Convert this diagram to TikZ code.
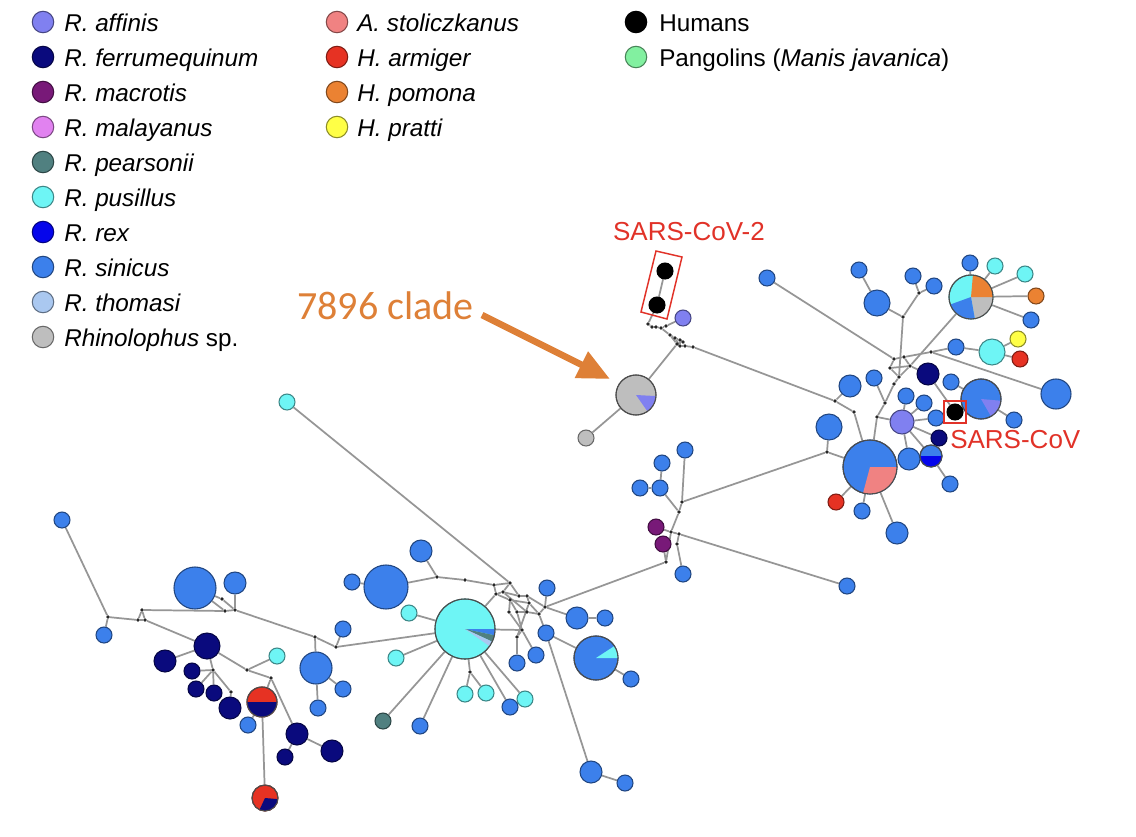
\documentclass[tikz,border=0pt]{standalone}
\usepackage{fontspec}
\setmainfont{Liberation Sans}
\newfontfamily\clfont{Carlito}
\usetikzlibrary{arrows.meta,backgrounds}
\definecolor{caff}{RGB}{128,128,240}
\definecolor{cfer}{RGB}{10,10,125}
\definecolor{cmac}{RGB}{120,25,120}
\definecolor{cmal}{RGB}{225,130,240}
\definecolor{cpea}{RGB}{80,128,128}
\definecolor{cpus}{RGB}{110,245,245}
\definecolor{crex}{RGB}{5,5,235}
\definecolor{csin}{RGB}{60,128,235}
\definecolor{ctho}{RGB}{170,200,240}
\definecolor{csp}{RGB}{190,190,190}
\definecolor{csto}{RGB}{240,130,130}
\definecolor{carm}{RGB}{230,50,35}
\definecolor{cpom}{RGB}{235,130,50}
\definecolor{cpra}{RGB}{255,255,70}
\definecolor{chum}{RGB}{0,0,0}
\definecolor{cpan}{RGB}{130,240,160}
\definecolor{cedge}{RGB}{150,150,150}
\definecolor{cred}{RGB}{225,50,40}
\definecolor{corg}{RGB}{222,128,55}
\tikzset{
 nd/.style 2 args={circle,inner sep=0pt,minimum size={(#1+1)*1.5pt},fill=#2,draw=#2!55!black,line width=0.8pt},
 lgc/.style 2 args={circle,inner sep=0pt,minimum size={#1*0.75pt},fill=#2,draw=#2!55!black,line width=0.8pt},
 jn/.style={circle,inner sep=0pt,minimum size=2.8pt,fill=black!85},
 ed/.style={draw=cedge,line width=1.3pt},
 lg/.style={anchor=base west,inner sep=0pt,font=\fontsize{18.2}{21}\selectfont},
 redlabel/.style={text=cred,font=\fontsize{19.5}{22}\selectfont,inner sep=0pt},
 hl/.style={draw=cred,line width=1.1pt},
 ring/.style={draw=black!70,line width=0.8pt},
}
\newcommand\mynode[5]{\node[nd={#4}{#5}] (#1) at (#2,#3) {};}
\newcommand\myjn[3]{\node[jn] (#1) at (#2,#3) {};}
\newcommand\mywedge[5]{\fill[#5] (#1.center) -- ++(#2:{(#4+1)*0.75pt}) arc[start angle=#2,end angle=#3,radius={(#4+1)*0.75pt}] -- cycle;}
\newcommand\myring[2]{\draw[ring] (#1.center) circle[radius={(#2+1)*0.75pt}];}
\begin{document}
\begin{tikzpicture}[x=0.75pt,y=-0.75pt]
\useasboundingbox (0,0) rectangle (1136,836);
% ---------------- legend
\node[lgc={21.5}{caff}] (l1) at (43,22) {};
\node[lgc={21.5}{cfer}] (l2) at (43,57) {};
\node[lgc={21.5}{cmac}] (l3) at (43,92) {};
\node[lgc={21.5}{cmal}] (l4) at (43,127) {};
\node[lgc={21.5}{cpea}] (l5) at (43,162) {};
\node[lgc={21.5}{cpus}] (l6) at (43,197) {};
\node[lgc={21.5}{crex}] (l7) at (43,232) {};
\node[lgc={21.5}{csin}] (l8) at (43,267) {};
\node[lgc={21.5}{ctho}] (l9) at (43,302) {};
\node[lgc={21.5}{csp}] (l10) at (43,337) {};
\node[lgc={21.5}{csto}] (l11) at (337,22) {};
\node[lgc={21.5}{carm}] (l12) at (337,57) {};
\node[lgc={21.5}{cpom}] (l13) at (337,92) {};
\node[lgc={21.5}{cpra}] (l14) at (337,127) {};
\node[lgc={21.5}{chum}] (l15) at (636,22) {};
\node[lgc={21.5}{cpan}] (l16) at (636,57) {};
\node[lg] (t1) at (64,31) {\textit{R. affinis}};
\node[lg] (t2) at (64,66) {\textit{R. ferrumequinum}};
\node[lg] (t3) at (64,101) {\textit{R. macrotis}};
\node[lg] (t4) at (64,136) {\textit{R. malayanus}};
\node[lg] (t5) at (64,171) {\textit{R. pearsonii}};
\node[lg] (t6) at (64,206) {\textit{R. pusillus}};
\node[lg] (t7) at (64,241) {\textit{R. rex}};
\node[lg] (t8) at (64,276) {\textit{R. sinicus}};
\node[lg] (t9) at (64,311) {\textit{R. thomasi}};
\node[lg] (t10) at (64,346) {\textit{Rhinolophus} sp.};
\node[lg] (t11) at (357,31) {\textit{A. stoliczkanus}};
\node[lg] (t12) at (357,66) {\textit{H. armiger}};
\node[lg] (t13) at (357,101) {\textit{H. pomona}};
\node[lg] (t14) at (357,136) {\textit{H. pratti}};
\node[lg] (t15) at (659,31) {Humans};
\node[lg] (t16) at (659,66) {Pangolins (\textit{Manis javanica})};
% ---------------- right cluster
\mynode{a1}{767}{278}{7}{csin}
\mynode{a2}{859}{270}{7}{csin}
\mynode{a3}{877}{303}{12}{csin}
\mynode{a4}{913}{276}{7}{csin}
\mynode{a5}{934}{286}{7}{csin}
\myjn{ja1}{903}{317}
\myjn{ja2}{919}{293}
\mynode{P1}{971}{297}{21}{cpus}
\mynode{a6}{970}{263}{7}{csin}
\mynode{a7}{995}{266}{7}{cpus}
\mynode{a8}{1025}{274}{7}{cpus}
\mynode{a9}{1036}{296}{7}{cpom}
\mynode{a10}{1031}{320}{7}{csin}
\mynode{a11}{956}{347}{7}{csin}
\mynode{a12}{992}{352}{12}{cpus}
\mynode{a13}{1018}{339}{7}{cpra}
\mynode{a14}{1020}{359}{7}{carm}
\mynode{a15}{928}{374}{10}{cfer}
\mynode{a16}{951}{382}{7}{csin}
\mynode{P2}{981}{399}{19}{csin}
\mynode{a17}{1056}{394}{14}{csin}
\mynode{a18}{1014}{420}{7}{csin}
\mynode{H1}{955}{412}{7}{chum}
\mynode{AF}{902}{422}{11}{caff}
\mynode{a19}{906}{396}{7}{csin}
\mynode{a20}{924}{403}{7}{csin}
\mynode{a21}{936}{418}{7}{csin}
\mynode{a22}{939}{438}{7}{cfer}
\mynode{P3}{931}{456}{10}{csin}
\mynode{a23}{909}{459}{10}{csin}
\mynode{a24}{950}{484}{7}{csin}
\mynode{P4}{870}{467}{26}{csin}
\mynode{a25}{836}{502}{7}{carm}
\mynode{a26}{862}{511}{7}{csin}
\mynode{a27}{897}{533}{10}{csin}
\mynode{a28}{829}{427}{12}{csin}
\mynode{a29}{850}{386}{10}{csin}
\mynode{a30}{874}{378}{7}{csin}
\myjn{jb1}{827}{452}
\myjn{jb2}{835}{401}
\myjn{jb3}{854}{412}
\myjn{jb4}{877}{417}
\myjn{jb5}{885}{403}
\myjn{jb6}{894}{384}
\myjn{jb7}{899}{377}
\myjn{jb8}{890}{368}
\myjn{jb9}{894}{359}
\myjn{jb10}{904}{357}
\myjn{jb11}{910}{366}
\myjn{jb12}{931}{352}
% ---------------- 7896 / SARS-CoV-2
\mynode{H2a}{665}{271}{7}{chum}
\mynode{H2b}{657}{305}{7}{chum}
\mynode{b1}{683}{318}{7}{caff}
\mynode{P5}{636}{395}{19}{csp}
\mynode{b2}{586}{438}{7}{csp}
\myjn{t1}{648}{324}
\myjn{t2}{652}{327}
\myjn{t3}{656}{327}
\myjn{t4}{661}{328}
\myjn{t5}{666}{326}
\myjn{t6}{670}{335}
\myjn{t7}{675}{338}
\myjn{t8}{680}{340}
\myjn{t9}{683}{342}
\myjn{t10}{685}{346}
\myjn{t11}{680}{346}
\myjn{t12}{677}{344}
\myjn{t13}{693}{347}
% ---------------- middle
\mynode{c1}{685}{450}{7}{csin}
\mynode{c2}{662}{463}{7}{csin}
\mynode{c3}{660}{488}{7}{csin}
\mynode{c4}{640}{488}{7}{csin}
\mynode{c5}{656}{527}{7}{cmac}
\mynode{c6}{663}{544}{7}{cmac}
\mynode{c7}{683}{574}{7}{csin}
\mynode{c8}{847}{586}{7}{csin}
\myjn{jm1}{682}{502}
\myjn{jm2}{679}{512}
\myjn{jm3}{671}{532}
\myjn{jm4}{679}{534}
\myjn{jm5}{677}{544}
\myjn{jm6}{666}{562}
% ---------------- centre
\mynode{P6}{465}{629}{29}{cpus}
\mynode{d1}{547}{588}{7}{csin}
\mynode{d2}{577}{618}{10}{csin}
\mynode{d3}{605}{618}{7}{csin}
\mynode{d4}{546}{633}{7}{csin}
\mynode{P7}{596}{658}{21}{csin}
\mynode{d5}{631}{679}{7}{csin}
\mynode{d6}{517}{663}{7}{csin}
\mynode{d7}{536}{655}{7}{csin}
\mynode{d8}{409}{613}{7}{cpus}
\mynode{d9}{396}{658}{7}{cpus}
\mynode{d10}{465}{694}{7}{cpus}
\mynode{d11}{486}{693}{7}{cpus}
\mynode{d12}{510}{707}{7}{csin}
\mynode{d13}{525}{699}{7}{cpus}
\mynode{d14}{383}{721}{7}{cpea}
\mynode{d15}{420}{726}{7}{csin}
\mynode{d16}{591}{772}{10}{csin}
\mynode{d17}{625}{783}{7}{csin}
\mynode{d18}{421}{551}{10}{csin}
\mynode{d19}{386}{587}{21}{csin}
\mynode{d20}{352}{582}{7}{csin}
\mynode{d21}{343}{629}{7}{csin}
\mynode{c12}{287}{402}{7}{cpus}
\myjn{jc1}{437}{577}
\myjn{jc2}{465}{580}
\myjn{jc3}{470}{672}
\myjn{k1}{494}{585}
\myjn{k2}{510}{583}
\myjn{k3}{496}{594}
\myjn{k4}{503}{592}
\myjn{k5}{510}{600}
\myjn{k6}{519}{596}
\myjn{k7}{527}{596}
\myjn{k8}{529}{603}
\myjn{k9}{517}{612}
\myjn{k10}{527}{612}
\myjn{k11}{539}{614}
\myjn{k12}{545}{607}
\myjn{k13}{522}{630}
\myjn{k14}{517}{637}
\myjn{k15}{509}{612}
% ---------------- left cluster
\mynode{e1}{62}{520}{7}{csin}
\mynode{e2}{104}{635}{7}{csin}
\mynode{e3}{195}{588}{20}{csin}
\mynode{e4}{235}{583}{10}{csin}
\mynode{e5}{207}{646}{12}{cfer}
\mynode{e6}{165}{661}{10}{cfer}
\mynode{e7}{192}{671}{7}{cfer}
\mynode{e8}{196}{689}{7}{cfer}
\mynode{e9}{214}{693}{7}{cfer}
\mynode{e10}{230}{708}{10}{cfer}
\mynode{e11}{277}{656}{7}{cpus}
\mynode{P8}{262}{702}{14}{carm}
\mynode{e12}{248}{725}{7}{csin}
\mynode{e13}{297}{734}{10}{cfer}
\mynode{e14}{285}{757}{7}{cfer}
\mynode{e15}{332}{751}{10}{cfer}
\mynode{P9}{265}{798}{12}{carm}
\mynode{e16}{316}{668}{15}{csin}
\mynode{e18}{343}{689}{7}{csin}
\mynode{e19}{318}{708}{7}{csin}
\myjn{jl1}{108}{617}
\myjn{jl3}{138}{620}
\myjn{jl4}{142}{610}
\myjn{jl5}{145}{620}
\myjn{jl6}{225}{611}
\myjn{jl7}{235}{610}
\myjn{jl8}{222}{599}
\myjn{jl9}{315}{637}
\myjn{jl2}{336}{647}
\myjn{jl10}{213}{670}
\myjn{jl11}{247}{670}
\myjn{jl12}{271}{678}
\myjn{jl13}{231}{692}
% ---------------- pie wedges
\mywedge{P1}{-80}{0}{21}{csp}
\mywedge{P1}{0}{85}{21}{cpom}
\mywedge{P1}{200}{280}{21}{csin}
\myring{P1}{21}
\mywedge{P2}{-60}{-5}{19}{caff}
\myring{P2}{19}
\mywedge{P3}{180}{360}{10}{crex}
\myring{P3}{10}
\mywedge{P4}{-105}{0}{26}{csto}
\myring{P4}{26}
\mywedge{P5}{-55}{-3}{19}{caff}
\myring{P5}{19}
\mywedge{P6}{-12}{0}{29}{csin}
\mywedge{P6}{-25}{-12}{29}{cpea}
\mywedge{P6}{-35}{-25}{29}{ctho}
\myring{P6}{29}
\mywedge{P7}{0}{33}{21}{cpus}
\myring{P7}{21}
\mywedge{P8}{180}{360}{14}{cfer}
\myring{P8}{14}
\mywedge{P9}{-115}{-5}{12}{cfer}
\myring{P9}{12}
% ---------------- highlights and labels
\draw[hl] (656,251) -- (682,257) -- (667,319) -- (641,312) -- cycle;
\draw[hl] (944,401) rectangle (966,423);
\node[redlabel] (lab2) at (689,232) {SARS-CoV-2};
\node[redlabel,anchor=west] (lab1) at (950,440) {SARS-CoV};
\node[anchor=base west,inner sep=0pt,text=corg,font=\clfont\fontsize{30}{34}\selectfont] (clade) at (297,319) {7896 clade};
\coordinate (arrS) at (482,315);
\coordinate (arrE) at (610,379);
\draw[corg,line width=5pt,-{Triangle[length=24pt,width=21pt]}] (arrS) -- (arrE);
% ---------------- edges
\begin{pgfonlayer}{background}
\fill[white] (0,0) rectangle (1136,836);
\foreach \a/\b in {a1/jb9,a2/a3,a3/ja1,ja1/ja2,ja2/a4,ja2/a5,ja1/jb7,
 P1/a6,P1/a7,P1/a8,P1/a9,P1/a10,P1/jb11,
 jb9/jb10,jb10/jb12,jb12/a11,jb12/a17,a11/a12,a12/a13,a12/a14,
 jb9/jb8,jb8/jb7,jb8/jb11,jb10/jb11,jb11/a15,jb7/jb6,jb6/jb5,jb5/jb4,jb4/AF,jb4/P4,jb7/jb11,
 a15/H1,H1/P2,a16/P2,P2/a18,
 AF/a19,AF/a20,AF/a21,AF/a22,AF/P3,AF/a23,P3/a24,
 P4/a25,P4/a26,P4/a27,P4/jb1,jb1/a28,jb1/jm1,
 jb3/P4,jb2/jb3,jb2/a29,jb2/t13,a30/jb5,
 H2a/H2b,H2b/t1,t1/t2,t2/t3,t3/t4,t4/t5,t5/b1,t4/t6,t6/t7,t7/t8,t8/t9,t9/t10,t10/t13,
 t6/t12,t12/t11,t11/t10,t7/t11,t8/t11,P5/t12,P5/b2,
 c1/jm1,c2/c3,c4/c3,c3/jm2,jm1/jm2,jm2/jm3,jm3/jm4,jm4/c8,jm4/jm5,jm5/c7,jm3/jm6,jm6/c6,c5/jm3,
 k12/jm6,
 k1/k3,k1/k2,k2/k4,k3/k4,k4/k6,k6/k7,k2/k6,k3/k5,k5/k8,k7/k8,k5/k9,k9/k10,k10/k11,k8/k11,
 k11/k12,k7/k12,k5/k15,k15/k13,k9/k13,k8/k14,k13/k14,k4/k10,
 c12/k2,jc2/k1,d19/jc1,jc1/jc2,d18/jc1,d20/d19,
 P6/d8,P6/d9,P6/d14,P6/d15,P6/jc3,P6/d12,P6/d13,jc3/d10,jc3/d11,P6/jl2,P6/k3,P6/k13,
 d4/P7,d4/k11,d4/d16,d16/d17,d2/d3,k12/d2,P7/d5,d6/k14,d7/k13,d1/k12,
 e1/jl1,jl1/e2,jl1/jl3,jl3/jl4,jl4/jl5,jl5/jl3,jl4/jl6,jl6/jl7,e3/jl6,e3/jl8,jl8/jl7,e4/jl7,
 jl7/jl9,jl9/e16,jl9/jl2,jl2/d21,
 jl5/e5,e5/e6,e5/jl10,jl10/e7,jl10/e8,jl10/e9,jl10/jl13,jl13/e10,e5/jl11,jl11/e11,jl11/jl12,
 jl12/P8,jl12/e13,e13/e14,e13/e15,P8/e12,P8/P9,e16/e18,e16/e19}
 \draw[ed] (\a) -- (\b);
\end{pgfonlayer}
\end{tikzpicture}
\end{document}
